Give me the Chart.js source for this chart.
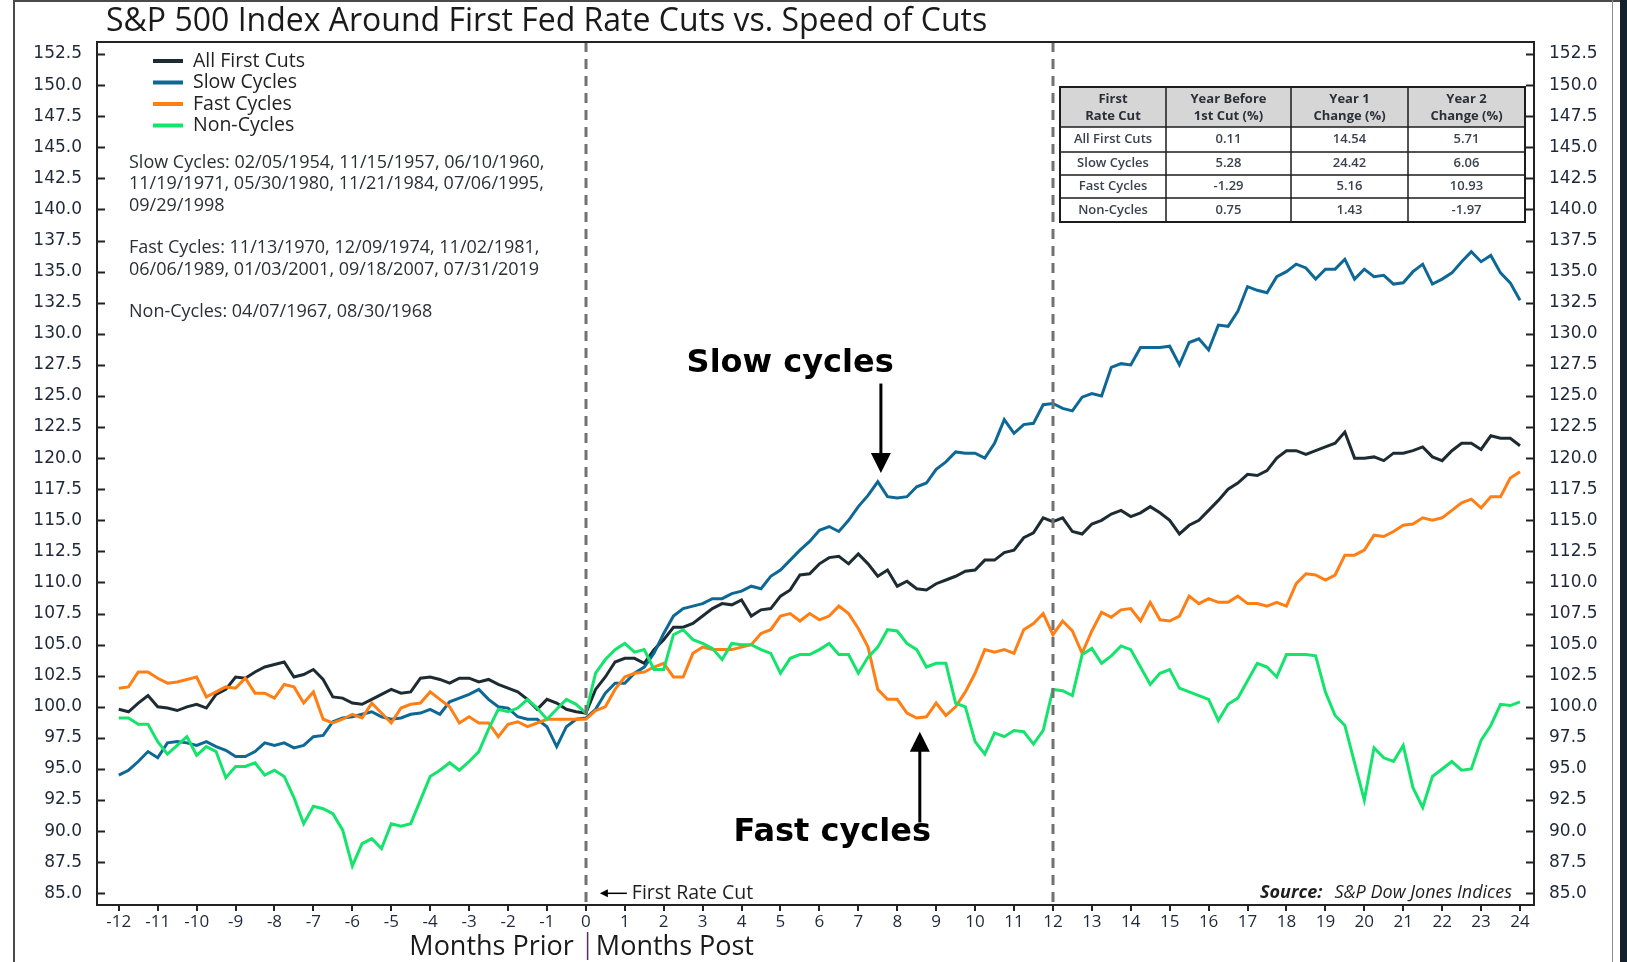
<!DOCTYPE html>
<html>
<head>
<meta charset="utf-8">
<title>S&amp;P 500 Index Around First Fed Rate Cuts vs. Speed of Cuts</title>
<script src="https://cdn.jsdelivr.net/npm/chart.js@4.4.0/dist/chart.umd.min.js"></script>
<style>
  html, body { margin: 0; padding: 0; background: #fff; }
  canvas { display: block; }
</style>
</head>
<body>
<canvas id="cutsChart" width="1627" height="962"></canvas>
<script>
// months around the first cut, one reading every quarter month (-12 .. 24)
const months = Array.from({ length: 145 }, (_, i) => -12 + i * 0.25);

const allFirstCuts = [
  99.8, 99.6, 100.3, 100.9, 100.0, 99.9, 99.7, 100.0, 100.2, 99.9, 101.0, 101.4, 102.4,
  102.3, 102.8, 103.2, 103.4, 103.6, 102.4, 102.6, 103.0, 102.2, 100.8, 100.7, 100.3,
  100.2, 100.6, 101.0, 101.4, 101.1, 101.2, 102.3, 102.4, 102.2, 101.9, 102.3, 102.3,
  102.0, 102.2, 101.8, 101.5, 101.2, 100.6, 99.8, 100.6, 100.3, 99.8, 99.6, 99.5,
  101.4, 102.4, 103.6, 103.9, 103.9, 103.5, 104.6, 105.4, 106.4, 106.4, 106.7, 107.3,
  107.9, 108.3, 108.2, 108.6, 107.3, 107.8, 107.9, 108.9, 109.4, 110.6, 110.7, 111.5,
  112.0, 112.1, 111.5, 112.3, 111.5, 110.5, 111.0, 109.7, 110.1, 109.5, 109.4, 109.9,
  110.2, 110.5, 110.9, 111.0, 111.8, 111.8, 112.4, 112.6, 113.6, 114.0, 115.2, 114.9,
  115.2, 114.1, 113.9, 114.7, 115.0, 115.5, 115.8, 115.3, 115.6, 116.1, 115.6, 115.0,
  113.9, 114.6, 115.0, 115.8, 116.6, 117.5, 118.0, 118.7, 118.6, 119.0, 120.0, 120.6,
  120.6, 120.3, 120.6, 120.9, 121.2, 122.1, 120.0, 120.0, 120.1, 119.8, 120.4, 120.4,
  120.6, 120.9, 120.1, 119.8, 120.6, 121.2, 121.2, 120.7, 121.8, 121.6, 121.6, 121.0
];

const slowCycles = [
  94.5, 94.9, 95.6, 96.4, 95.9, 97.1, 97.2, 97.1, 96.9, 97.2, 96.8, 96.5, 96.0,
  96.0, 96.4, 97.1, 96.9, 97.1, 96.7, 96.9, 97.6, 97.7, 98.8, 99.1, 99.2,
  99.4, 99.6, 99.2, 99.0, 99.1, 99.4, 99.5, 99.8, 99.4, 100.4, 100.7, 101.0,
  101.4, 100.6, 100.0, 99.9, 99.2, 99.0, 99.0, 98.4, 96.8, 98.4, 99.0, 99.1,
  99.8, 101.1, 101.9, 101.9, 102.7, 103.2, 104.3, 105.9, 107.3, 107.9, 108.1, 108.3,
  108.7, 108.7, 109.1, 109.3, 109.7, 109.5, 110.5, 111.0, 111.8, 112.6, 113.3, 114.2,
  114.5, 114.1, 115.0, 116.1, 117.0, 118.1, 116.9, 116.8, 116.9, 117.7, 118.0, 119.1,
  119.7, 120.5, 120.4, 120.4, 120.0, 121.2, 123.1, 122.0, 122.7, 122.8, 124.3, 124.4,
  124.0, 123.8, 124.9, 125.2, 125.0, 127.3, 127.6, 127.5, 128.9, 128.9, 128.9, 129.0,
  127.5, 129.3, 129.6, 128.7, 130.7, 130.6, 131.8, 133.8, 133.5, 133.3, 134.6, 135.0,
  135.6, 135.3, 134.4, 135.2, 135.2, 136.0, 134.4, 135.2, 134.6, 134.7, 134.0, 134.1,
  135.0, 135.6, 134.0, 134.4, 134.9, 135.8, 136.6, 135.8, 136.3, 134.9, 134.1, 132.7
];

const fastCycles = [
  101.5, 101.6, 102.8, 102.8, 102.3, 101.9, 102.0, 102.2, 102.4, 100.8, 101.2, 101.6, 101.5,
  102.3, 101.1, 101.1, 100.7, 101.8, 101.6, 100.3, 101.2, 99.0, 98.7, 99.0, 99.4,
  99.1, 100.3, 99.5, 98.7, 99.9, 100.2, 100.3, 101.2, 100.6, 100.0, 98.7, 99.2,
  98.7, 98.7, 97.6, 98.6, 98.8, 98.4, 98.7, 99.0, 99.0, 99.0, 99.0, 99.0,
  99.7, 100.0, 101.4, 102.4, 102.7, 102.8, 103.2, 103.5, 102.4, 102.4, 104.3, 104.8,
  104.6, 104.6, 104.6, 104.8, 105.0, 105.9, 106.2, 107.3, 107.5, 106.9, 107.5, 107.0,
  107.3, 108.1, 107.5, 106.3, 104.8, 101.4, 100.6, 100.6, 99.5, 99.1, 99.2, 100.3,
  99.3, 100.0, 101.2, 102.7, 104.6, 104.4, 104.6, 104.3, 106.2, 106.7, 107.5, 105.8,
  106.9, 106.1, 104.3, 106.1, 107.6, 107.2, 107.8, 107.9, 106.9, 108.4, 107.0, 106.9,
  107.3, 108.9, 108.3, 108.7, 108.4, 108.4, 108.9, 108.3, 108.3, 108.1, 108.4, 108.1,
  109.9, 110.7, 110.6, 110.2, 110.6, 112.2, 112.2, 112.6, 113.8, 113.7, 114.1, 114.6,
  114.7, 115.2, 115.0, 115.2, 115.8, 116.4, 116.7, 116.0, 116.9, 116.9, 118.4, 118.9
];

const nonCycles = [
  99.1, 99.1, 98.6, 98.6, 97.2, 96.2, 96.9, 97.6, 96.1, 96.8, 96.4, 94.3, 95.2,
  95.2, 95.5, 94.5, 94.9, 94.4, 92.7, 90.6, 92.0, 91.8, 91.4, 90.1, 87.2,
  89.0, 89.4, 88.6, 90.6, 90.4, 90.6, 92.5, 94.4, 94.9, 95.5, 94.9, 95.6,
  96.4, 98.2, 99.8, 99.6, 99.9, 100.6, 99.9, 99.0, 99.8, 100.6, 100.2, 99.5,
  102.7, 103.8, 104.6, 105.1, 104.4, 104.6, 103.0, 103.0, 105.8, 106.2, 105.4, 105.1,
  104.7, 103.8, 105.1, 105.0, 105.0, 104.6, 104.3, 102.7, 103.9, 104.2, 104.2, 104.6,
  105.1, 104.2, 104.2, 102.7, 104.0, 104.8, 106.2, 106.1, 105.1, 104.6, 103.2, 103.5,
  103.5, 100.3, 100.0, 97.2, 96.2, 97.9, 97.6, 98.1, 98.0, 97.0, 98.1, 101.4,
  101.3, 100.9, 104.2, 104.7, 103.5, 104.1, 104.9, 104.6, 103.2, 101.8, 102.7, 103.0,
  101.5, 101.2, 100.9, 100.6, 98.9, 100.2, 100.7, 102.1, 103.5, 103.2, 102.4, 104.2,
  104.2, 104.2, 104.1, 101.2, 99.3, 98.5, 95.5, 92.5, 96.7, 95.9, 95.6, 96.9,
  93.5, 91.9, 94.4, 95.0, 95.6, 94.9, 95.0, 97.3, 98.5, 100.2, 100.1, 100.4
];

const seriesNames = ['All First Cuts', 'Slow Cycles', 'Fast Cycles', 'Non-Cycles'];
const seriesColors = ['#1d2b33', '#0e6896', '#ff7f14', '#14e46c'];

const xTicks = [-12, -11, -10, -9, -8, -7, -6, -5, -4, -3, -2, -1, 0, 1, 2, 3, 4, 5, 6, 7, 8, 9,
  10, 11, 12, 13, 14, 15, 16, 17, 18, 19, 20, 21, 22, 23, 24];
const yTicks = [85, 87.5, 90, 92.5, 95, 97.5, 100, 102.5, 105, 107.5, 110, 112.5, 115, 117.5,
  120, 122.5, 125, 127.5, 130, 132.5, 135, 137.5, 140, 142.5, 145, 147.5, 150, 152.5];
const cutMarkers = [0, 12];

const tableHead = [['First', 'Rate Cut'], ['Year Before', '1st Cut (%)'], ['Year 1', 'Change (%)'], ['Year 2', 'Change (%)']];
const tableRows = [
  ['All First Cuts', '0.11', '14.54', '5.71'],
  ['Slow Cycles', '5.28', '24.42', '6.06'],
  ['Fast Cycles', '-1.29', '5.16', '10.93'],
  ['Non-Cycles', '0.75', '1.43', '-1.97']
];

const notes = [
  ['Slow Cycles: 02/05/1954, 11/15/1957, 06/10/1960,', '11/19/1971, 05/30/1980, 11/21/1984, 07/06/1995,', '09/29/1998'],
  ['Fast Cycles: 11/13/1970, 12/09/1974, 11/02/1981,', '06/06/1989, 01/03/2001, 09/18/2007, 07/31/2019'],
  ['Non-Cycles: 04/07/1967, 08/30/1968']
];

const SANS = '"Open Sans", "Noto Sans", sans-serif';
const TICK_COLOR = '#1e2838';

const decor = {
  id: 'decor',
  beforeDraw(chart) {
    const { ctx, width, height } = chart;
    ctx.save();
    ctx.fillStyle = '#fff';
    ctx.fillRect(0, 0, width, height);
    ctx.restore();
  },
  afterDatasetsDraw(chart) {
    const { ctx, chartArea: a, scales: { x } } = chart;
    ctx.save();
    ctx.strokeStyle = '#727272';
    ctx.lineWidth = 3;
    ctx.setLineDash([10, 7]);
    cutMarkers.forEach(m => {
      const px = Math.round(x.getPixelForValue(m));
      ctx.beginPath();
      ctx.moveTo(px, a.top);
      ctx.lineTo(px, a.bottom);
      ctx.stroke();
    });
    ctx.restore();
  },
  afterDraw(chart) {
    const { ctx, chartArea: a, scales: { x, y } } = chart;
    ctx.save();

    // picture frame
    ctx.fillStyle = '#4a4a4a';
    ctx.fillRect(13, 0, 2, 962);
    ctx.fillRect(13, 0, 1614, 2);
    ctx.fillStyle = '#8a8a8a';
    ctx.fillRect(1612, 0, 1, 962);
    ctx.fillStyle = '#14202c';
    ctx.fillRect(1620, 0, 7, 962);

    // plot box and inward ticks
    ctx.strokeStyle = '#222';
    ctx.lineWidth = 2;
    ctx.strokeRect(a.left, a.top, a.right - a.left, a.bottom - a.top);
    ctx.beginPath();
    yTicks.forEach(v => {
      const py = Math.round(y.getPixelForValue(v)) + 0.5;
      ctx.moveTo(a.left, py); ctx.lineTo(a.left + 8, py);
      ctx.moveTo(a.right - 8, py); ctx.lineTo(a.right, py);
    });
    ctx.stroke();

    // title
    ctx.fillStyle = '#1a1a1a';
    ctx.font = '32px ' + SANS;
    ctx.textBaseline = 'alphabetic';
    ctx.textAlign = 'left';
    ctx.fillText('S&P 500 Index Around First Fed Rate Cuts vs. Speed of Cuts', 106, 31);

    // legend
    ctx.font = '19.5px ' + SANS;
    ctx.textBaseline = 'middle';
    seriesNames.forEach((name, i) => {
      const ly = 61 + i * 21.5;
      ctx.fillStyle = seriesColors[i];
      ctx.fillRect(153, ly - 2, 30, 4);
      ctx.fillStyle = '#222';
      ctx.fillText(name, 193, ly);
    });

    // cycle dates
    ctx.font = '18px ' + SANS;
    ctx.fillStyle = '#2b2f36';
    let ny = 163;
    notes.forEach(block => {
      block.forEach(line => { ctx.fillText(line, 129, ny); ny += 21.3; });
      ny += 21.3;
    });

    // summary table
    const cx = [1060, 1166, 1291, 1408, 1525];
    const ry = [87, 127, 152, 175, 198, 222];
    ctx.fillStyle = '#d6d6d6';
    ctx.fillRect(cx[0], ry[0], cx[4] - cx[0], ry[1] - ry[0]);
    ctx.fillStyle = '#fff';
    ctx.fillRect(cx[0], ry[1], cx[4] - cx[0], ry[5] - ry[1]);
    ctx.strokeStyle = '#1c1c1c';
    ctx.lineWidth = 1.5;
    ctx.beginPath();
    cx.forEach(c => { ctx.moveTo(c, ry[0]); ctx.lineTo(c, ry[5]); });
    ry.forEach(r => { ctx.moveTo(cx[0], r); ctx.lineTo(cx[4], r); });
    ctx.stroke();
    ctx.lineWidth = 2;
    ctx.strokeRect(cx[0], ry[0], cx[4] - cx[0], ry[5] - ry[0]);
    ctx.textAlign = 'center';
    ctx.fillStyle = '#2a2f38';
    ctx.font = 'bold 13px ' + SANS;
    tableHead.forEach((h, i) => {
      const mx = (cx[i] + cx[i + 1]) / 2;
      ctx.fillText(h[0], mx, 99);
      ctx.fillText(h[1], mx, 116);
    });
    ctx.font = '600 13px ' + SANS;
    ctx.fillStyle = '#3a4250';
    tableRows.forEach((row, r) => {
      const my = (ry[r + 1] + ry[r + 2]) / 2;
      row.forEach((cell, i) => ctx.fillText(cell, (cx[i] + cx[i + 1]) / 2, my));
    });

    // callouts
    const arrow = (x0, y0, x1, y1) => {
      const dir = Math.sign(y1 - y0);
      ctx.beginPath();
      ctx.moveTo(x0, y0);
      ctx.lineTo(x1, y1 - dir * 18);
      ctx.stroke();
      ctx.beginPath();
      ctx.moveTo(x1, y1);
      ctx.lineTo(x1 - 10, y1 - dir * 20);
      ctx.lineTo(x1 + 10, y1 - dir * 20);
      ctx.closePath();
      ctx.fill();
    };
    ctx.fillStyle = '#000';
    ctx.strokeStyle = '#000';
    ctx.lineWidth = 3;
    ctx.font = 'bold 32px "DejaVu Sans", sans-serif';
    ctx.fillText('Slow cycles', x.getPixelForValue(5.25), y.getPixelForValue(127.6));
    const sx = x.getPixelForValue(7.58);
    arrow(sx, y.getPixelForValue(126.0), sx, y.getPixelForValue(118.8));
    ctx.fillText('Fast cycles', x.getPixelForValue(6.33), y.getPixelForValue(89.9));
    const fx = x.getPixelForValue(8.58);
    arrow(fx, y.getPixelForValue(90.7), fx, y.getPixelForValue(98.0));

    // first cut marker note
    const zx = x.getPixelForValue(0);
    const zy = y.getPixelForValue(85);
    ctx.lineWidth = 1.5;
    ctx.beginPath();
    ctx.moveTo(zx + 41, zy); ctx.lineTo(zx + 20, zy);
    ctx.stroke();
    ctx.beginPath();
    ctx.moveTo(zx + 14, zy); ctx.lineTo(zx + 22, zy - 4); ctx.lineTo(zx + 22, zy + 4);
    ctx.closePath(); ctx.fill();
    ctx.fillStyle = '#1e1e1e';
    ctx.textAlign = 'left';
    ctx.font = '19.5px ' + SANS;
    ctx.fillText('First Rate Cut', zx + 46, zy);

    // source
    ctx.textAlign = 'right';
    ctx.font = 'italic 18px ' + SANS;
    const src = 'S&P Dow Jones Indices';
    ctx.fillText(src, 1512, zy);
    const srcW = ctx.measureText(src).width;
    ctx.font = 'italic bold 18px ' + SANS;
    ctx.fillText('Source:', 1512 - srcW - 12, zy);

    // axis title
    ctx.fillStyle = '#1a1a1a';
    ctx.font = '27px ' + SANS;
    ctx.textBaseline = 'alphabetic';
    ctx.fillText('Months Prior', zx - 12, 955);
    ctx.textAlign = 'left';
    ctx.fillText('Months Post', zx + 10, 955);
    ctx.fillStyle = '#5b2c5e';
    ctx.fillRect(zx + 1, 932, 1.5, 28);

    ctx.restore();
  }
};

const toPoints = values => months.map((m, i) => ({ x: m, y: values[i] }));
const allSeries = [allFirstCuts, slowCycles, fastCycles, nonCycles];

new Chart(document.getElementById('cutsChart'), {
  type: 'line',
  data: {
    datasets: allSeries.map((values, i) => ({
      label: seriesNames[i],
      data: toPoints(values),
      borderColor: seriesColors[i],
      borderWidth: 3,
      pointRadius: 0,
      tension: 0,
      fill: false,
      order: 4 - i
    }))
  },
  options: {
    responsive: false,
    animation: false,
    devicePixelRatio: 1,
    layout: { padding: { top: 42, left: 0, right: 0, bottom: 0 } },
    plugins: {
      legend: { display: false },
      title: { display: false },
      tooltip: { enabled: false }
    },
    scales: {
      x: {
        type: 'linear',
        min: -12.56,
        max: 24.36,
        afterBuildTicks: s => { s.ticks = xTicks.map(v => ({ value: v })); },
        afterFit: s => { s.height = 57; },
        border: { display: false },
        grid: { drawOnChartArea: false, drawTicks: true, tickLength: 6, color: '#222', lineWidth: 2 },
        ticks: {
          autoSkip: false, maxRotation: 0, padding: 1,
          color: TICK_COLOR, font: { family: SANS, size: 17 },
          callback: v => String(v)
        }
      },
      y: {
        position: 'left',
        min: 84.06,
        max: 153.47,
        afterBuildTicks: s => { s.ticks = yTicks.map(v => ({ value: v })); },
        afterFit: s => { s.width = 97; },
        border: { display: false },
        grid: { display: false, drawTicks: false },
        ticks: {
          padding: 15, color: TICK_COLOR,
          font: { family: '"DejaVu Sans", sans-serif', size: 17 },
          callback: v => v.toFixed(1)
        }
      },
      y2: {
        position: 'right',
        min: 84.06,
        max: 153.47,
        afterBuildTicks: s => { s.ticks = yTicks.map(v => ({ value: v })); },
        afterFit: s => { s.width = 93; },
        border: { display: false },
        grid: { display: false, drawTicks: false },
        ticks: {
          padding: 15, color: TICK_COLOR,
          font: { family: '"DejaVu Sans", sans-serif', size: 17 },
          callback: v => v.toFixed(1)
        }
      }
    }
  },
  plugins: [decor]
});
</script>
</body>
</html>
